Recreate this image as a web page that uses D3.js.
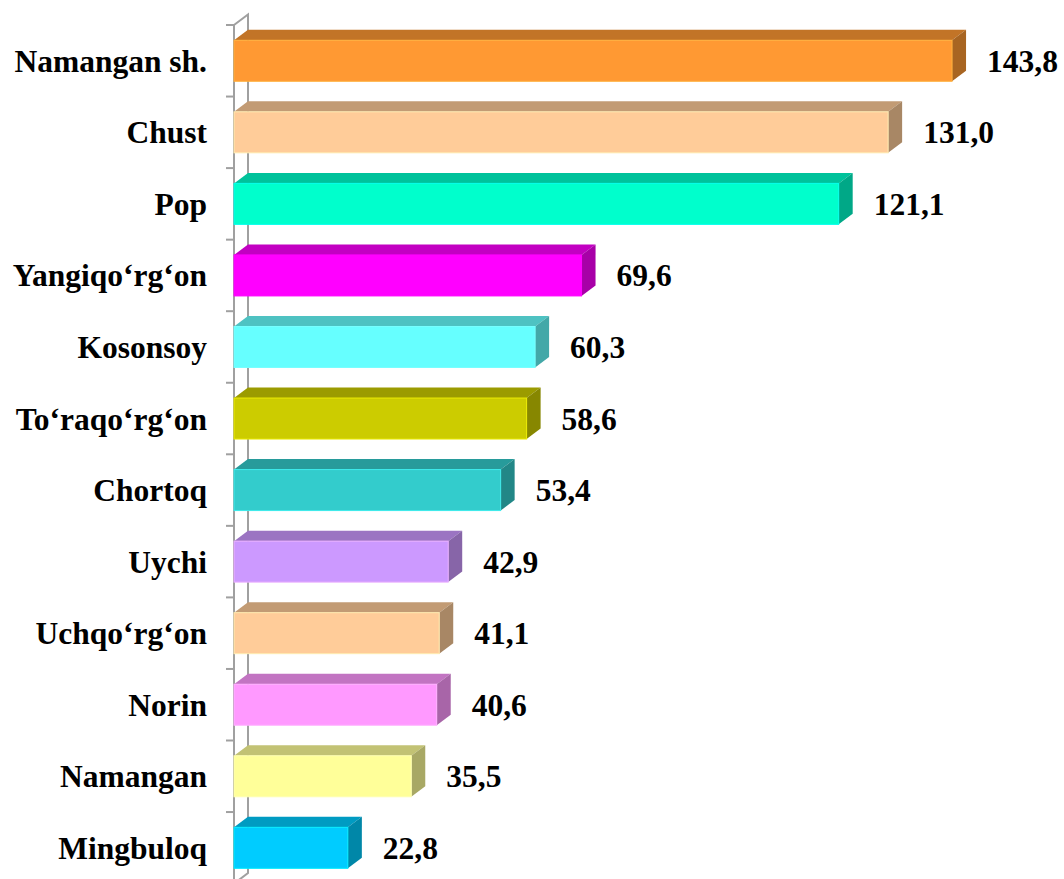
<!DOCTYPE html>
<html>
<head>
<meta charset="utf-8">
<script src="https://cdn.jsdelivr.net/npm/d3@7"></script>
<style>
  html, body { margin: 0; padding: 0; background: #ffffff; }
  svg { display: block; }
  .lbl { font-family: "Liberation Serif", "Times New Roman", serif; font-weight: bold; font-size: 31.5px; fill: #000; }
</style>
</head>
<body>
<svg id="chart" width="1064" height="879"></svg>
<script>
const categories = ["Namangan sh.", "Chust", "Pop", "Yangiqo‘rg‘on", "Kosonsoy", "To‘raqo‘rg‘on",
                    "Chortoq", "Uychi", "Uchqo‘rg‘on", "Norin", "Namangan", "Mingbuloq"];
const values = [143.8, 131.0, 121.1, 69.6, 60.3, 58.6, 53.4, 42.9, 41.1, 40.6, 35.5, 22.8];
const valueLabels = ["143,8", "131,0", "121,1", "69,6", "60,3", "58,6", "53,4", "42,9", "41,1", "40,6", "35,5", "22,8"];
const barColors = ["#FF9933", "#FFCC99", "#00FFCC", "#FF00FF", "#66FFFF", "#CCCC00",
                   "#33CCCC", "#CC99FF", "#FFCC99", "#FF99FF", "#FFFF99", "#00CCFF"];

const svg = d3.select("#chart");

const x = d3.scaleLinear().domain([0, 150]).range([234, 234 + 749]);
const pad = 0.427;
const y = d3.scaleBand().domain(categories).range([25, 883.6]).paddingInner(pad).paddingOuter(pad / 2);
const step = y.step();
const dx = 14, dy = 10.5;

function shade(c, k) {
  const col = d3.rgb(c);
  return d3.rgb(col.r * k, col.g * k, col.b * k).formatHex();
}

// axis wall
const axisColor = "#A0A0A0";
const g = svg.append("g");
const yTop = y.range()[0], yBot = y.range()[1];
g.append("path")
  .attr("d", `M${x(0)},${yTop} L${x(0) + dx},${yTop - dy} L${x(0) + dx},${yBot - dy} L${x(0)},${yBot}`)
  .attr("fill", "none").attr("stroke", axisColor).attr("stroke-width", 2);
g.append("line")
  .attr("x1", x(0)).attr("x2", x(0)).attr("y1", yTop).attr("y2", yBot)
  .attr("stroke", axisColor).attr("stroke-width", 2);
const tickYs = d3.range(categories.length + 1).map(i => yTop + i * step);
g.selectAll("line.tick").data(tickYs).enter().append("line")
  .attr("class", "tick")
  .attr("x1", x(0) - 8).attr("x2", x(0)).attr("y1", d => d).attr("y2", d => d)
  .attr("stroke", axisColor).attr("stroke-width", 2);

// bars
const data = categories.map((c, i) => ({ c, v: values[i], label: valueLabels[i], color: barColors[i] }));
const bars = svg.append("g").selectAll("g.bar").data(data).enter().append("g").attr("class", "bar");

bars.append("path") // top face
  .attr("d", d => {
    const x0 = x(0), x1 = x(d.v), y0 = y(d.c);
    return `M${x0},${y0} L${x0 + dx},${y0 - dy} L${x1 + dx},${y0 - dy} L${x1},${y0} Z`;
  })
  .attr("fill", d => shade(d.color, 0.76));
bars.append("path") // side face
  .attr("d", d => {
    const x1 = x(d.v), y0 = y(d.c), y1 = y(d.c) + y.bandwidth();
    return `M${x1},${y0} L${x1 + dx},${y0 - dy} L${x1 + dx},${y1 - dy} L${x1},${y1} Z`;
  })
  .attr("fill", d => shade(d.color, 0.66));
bars.append("rect") // front face
  .attr("x", x(0))
  .attr("y", d => y(d.c))
  .attr("width", d => x(d.v) - x(0))
  .attr("height", y.bandwidth())
  .attr("fill", d => d.color)
  .attr("stroke", d => d3.rgb(d.color).brighter(0.4).formatHex())
  .attr("stroke-width", 1);

// category labels
svg.append("g").selectAll("text").data(data).enter().append("text")
  .attr("class", "lbl")
  .attr("x", 207)
  .attr("y", d => y(d.c) + y.bandwidth() / 2 + 11)
  .attr("text-anchor", "end")
  .text(d => d.c);

// value labels
svg.append("g").selectAll("text").data(data).enter().append("text")
  .attr("class", "lbl")
  .attr("x", d => x(d.v) + 35)
  .attr("y", d => y(d.c) + y.bandwidth() / 2 + 11)
  .attr("text-anchor", "start")
  .text(d => d.label);
</script>
</body>
</html>
